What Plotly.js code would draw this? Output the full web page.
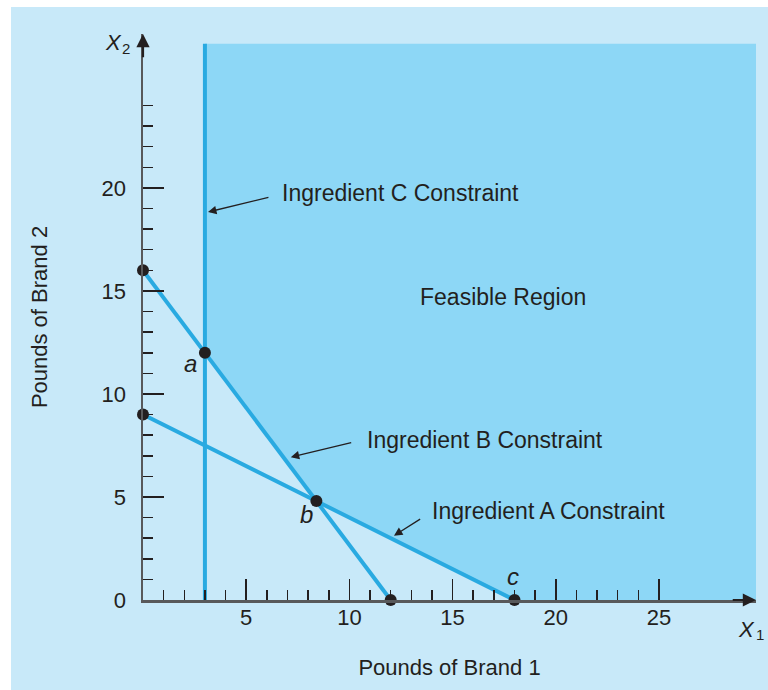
<!DOCTYPE html>
<html>
<head>
<meta charset="utf-8">
<script src="https://cdn.plot.ly/plotly-3.0.1.min.js"></script>
<style>
  html, body { margin: 0; padding: 0; background: #ffffff; }
  #bg { position: absolute; left: 11px; top: 7px; width: 757px; height: 683px; background: #c8e9f9; }
  #chart { position: absolute; left: 0; top: 0; width: 768px; height: 690px; }
</style>
</head>
<body>
<div id="bg"></div>
<div id="chart"></div>
<script>
// ---- data ----
const constraintA_x = [0, 18];      // x + 2y = 18
const constraintA_y = [9, 0];
const constraintB_x = [0, 12];      // 4x + 3y = 48
const constraintB_y = [16, 0];
const constraintC_x = [3, 3];       // x = 3
const constraintC_y = [0, 27];

const feasible_x = [3, 29.7, 29.7, 18, 8.4, 3];
const feasible_y = [27, 27, 0, 0, 4.8, 12];

const point_x = [0, 3, 0, 8.4, 12, 18];
const point_y = [16, 12, 9, 4.8, 0, 0];

const cornerLabels = ['a', 'b', 'c'];
const cornerLabel_x = [2.28, 7.9, 17.93];
const cornerLabel_y = [11.5, 4.13, 1.12];

const constraintLabels = ['Ingredient C Constraint', 'Ingredient B Constraint', 'Ingredient A Constraint'];
const constraintLabel_x = [6.64, 10.76, 13.9];
const constraintLabel_y = [19.76, 7.77, 4.32];
// pointer arrows: tail -> tip
const pointerTail_x = [6.15, 10.16, 13.5];
const pointerTail_y = [19.56, 7.66, 3.97];
const pointerTip_x = [3.15, 7.16, 12.16];
const pointerTip_y = [18.83, 6.93, 3.12];

const xTickVals = [5, 10, 15, 20, 25];
const xTickText = ['5', '10', '15', '20', '25'];
const yTickVals = [0, 5, 10, 15, 20];
const yTickText = ['0', '5', '10', '15', '20'];
const yLongTickNoLabel = [25];
const xMinorTickVals = [1,2,3,4,6,7,8,9,11,12,13,14,16,17,18,19,21,22,23,24];
const yMinorTickVals = [1,2,3,4,6,7,8,9,11,12,13,14,16,17,18,19,21,22,23,24];

// axis symbols X1 / X2 (letter + subscript digit)
const axisSymbolLetters = ['X', 'X'];
const axisSymbolSubs = ['1', '2'];

const xRange = [0, 29.7];
const yRange = [0, 27.47];

// ---- styles ----
const lineColor = '#29aae1';
const fillColor = '#8dd7f6';
const textColor = '#231f20';
const axisColor = '#58595b';
const FONT = 'Liberation Sans, Arial, Helvetica, sans-serif';

const traces = [
  { x: feasible_x, y: feasible_y, mode: 'lines', fill: 'toself', fillcolor: fillColor,
    line: { width: 0, color: fillColor }, hoverinfo: 'skip', showlegend: false },
  { x: constraintC_x, y: constraintC_y, mode: 'lines', line: { color: lineColor, width: 4 }, showlegend: false },
  { x: constraintB_x, y: constraintB_y, mode: 'lines', line: { color: lineColor, width: 4 }, showlegend: false },
  { x: constraintA_x, y: constraintA_y, mode: 'lines', line: { color: lineColor, width: 4 }, showlegend: false },
  { x: point_x, y: point_y, mode: 'markers', marker: { color: textColor, size: 12 }, cliponaxis: false, showlegend: false }
];

const textFont = { family: FONT, size: 23, color: textColor };
const titleFont = { family: FONT, size: 22, color: textColor };
const symFont = { family: FONT, size: 22, color: textColor };
const subFont = { family: FONT, size: 15, color: textColor };

// positions (paper) of the axis symbols: [x-axis symbol, y-axis symbol]
const symPos = [{ lx: 0.9853, ly: -0.053, sx: 1.0065, sy: -0.0601 },
                { lx: -0.0489, ly: 0.9841, sx: -0.0285, sy: 0.9744 }];

const annotations = [
  { x: 17.44, y: 14.71, text: 'Feasible Region', showarrow: false, xanchor: 'center', yanchor: 'middle', font: textFont },
  // axis arrowheads
  { x: xRange[1], y: 0, ax: xRange[1] - 1.2, ay: 0, axref: 'x', ayref: 'y', text: '', showarrow: true,
    arrowhead: 2, arrowwidth: 2.2, arrowsize: 1.2, arrowcolor: textColor },
  { x: 0, y: yRange[1], ax: 0, ay: yRange[1] - 1.2, axref: 'x', ayref: 'y', text: '', showarrow: true,
    arrowhead: 2, arrowwidth: 2.2, arrowsize: 1.2, arrowcolor: textColor }
];
for (let i = 0; i < axisSymbolLetters.length; i++) {
  annotations.push({ xref: 'paper', yref: 'paper', x: symPos[i].lx, y: symPos[i].ly, borderpad: 0,
    text: '<i>' + axisSymbolLetters[i] + '</i>', showarrow: false, xanchor: 'center', yanchor: 'middle', font: symFont });
  annotations.push({ xref: 'paper', yref: 'paper', x: symPos[i].sx, y: symPos[i].sy, borderpad: 0,
    text: axisSymbolSubs[i], showarrow: false, xanchor: 'center', yanchor: 'middle', font: subFont });
}
for (let i = 0; i < constraintLabels.length; i++) {
  annotations.push({ x: constraintLabel_x[i], y: constraintLabel_y[i], text: constraintLabels[i],
    showarrow: false, xanchor: 'left', yanchor: 'middle', font: textFont });
  annotations.push({ x: pointerTip_x[i], y: pointerTip_y[i], ax: pointerTail_x[i], ay: pointerTail_y[i],
    axref: 'x', ayref: 'y', text: '', showarrow: true,
    arrowhead: 2, arrowwidth: 1.3, arrowsize: 1.3, arrowcolor: textColor });
}
for (let i = 0; i < cornerLabels.length; i++) {
  annotations.push({ x: cornerLabel_x[i], y: cornerLabel_y[i], text: '<i>' + cornerLabels[i] + '</i>',
    showarrow: false, xanchor: 'center', yanchor: 'middle', font: { family: FONT, size: 24, color: textColor } });
}

const tickCommon = { ticks: 'inside', tickwidth: 1.5, tickcolor: textColor, fixedrange: true, showgrid: false, zeroline: false };

const layout = {
  width: 768, height: 690,
  margin: { l: 143, r: 12, t: 34, b: 90 },
  paper_bgcolor: 'rgba(0,0,0,0)',
  plot_bgcolor: 'rgba(0,0,0,0)',
  showlegend: false,
  font: { family: FONT, size: 22, color: textColor },
  xaxis: Object.assign({}, tickCommon, {
    range: xRange, showline: true, linecolor: axisColor, linewidth: 2.5,
    tickmode: 'array', tickvals: xTickVals, ticktext: xTickText, ticklen: 21,
    ticklabelstandoff: -4, tickfont: { family: FONT, size: 22, color: textColor },
    minor: { tickmode: 'array', tickvals: xMinorTickVals, ticks: 'inside', ticklen: 10, tickwidth: 1.5, tickcolor: textColor },
    title: { text: 'Pounds of Brand 1', font: titleFont, standoff: 31 },
    automargin: false
  }),
  yaxis: Object.assign({}, tickCommon, {
    range: yRange, showline: true, linecolor: axisColor, linewidth: 2.5,
    tickmode: 'array', tickvals: yTickVals, ticktext: yTickText, ticklen: 21,
    ticklabelstandoff: 10, tickfont: { family: FONT, size: 22, color: textColor },
    minor: { tickmode: 'array', tickvals: yMinorTickVals, ticks: 'inside', ticklen: 10, tickwidth: 1.5, tickcolor: textColor },
    title: { text: 'Pounds of Brand 2', font: titleFont, standoff: 48 },
    automargin: false
  }),
  yaxis2: Object.assign({}, tickCommon, {
    overlaying: 'y', side: 'left', anchor: 'x', range: yRange, showline: false, showticklabels: false,
    tickmode: 'array', tickvals: yLongTickNoLabel, ticklen: 21
  }),
  annotations: annotations
};

Plotly.newPlot('chart', traces, layout, { staticPlot: true, displayModeBar: false });
</script>
</body>
</html>
